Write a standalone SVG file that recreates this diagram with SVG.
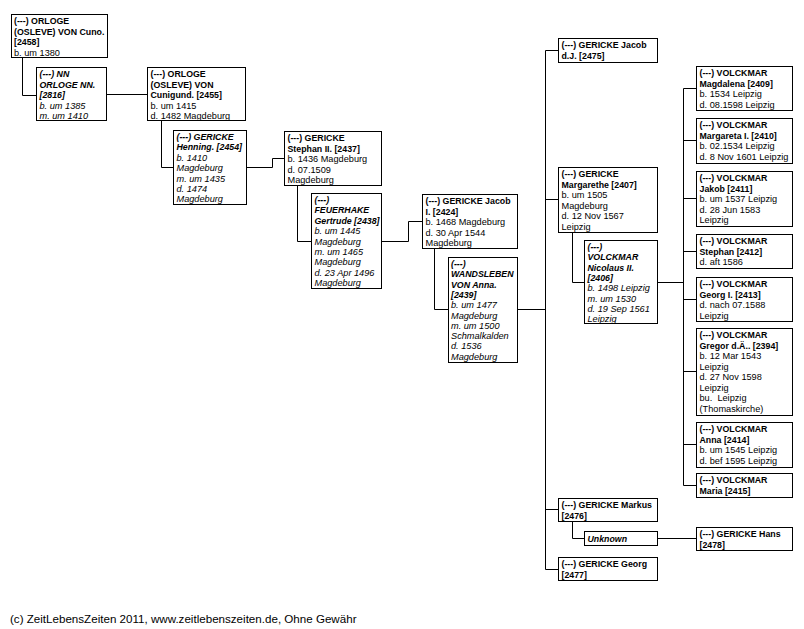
<svg xmlns="http://www.w3.org/2000/svg" width="804" height="629" viewBox="0 0 804 629">
<style>
rect{fill:#fff;stroke:#000;stroke-width:1}
text{font-family:"Liberation Sans",Arial,sans-serif;font-size:9.2px;fill:#000}
.b{font-weight:bold;font-size:8.8px}
.i{font-style:italic}
#connectors path{fill:none;stroke:#000;stroke-width:1}
.foot{font-size:11.6px}
</style>
<rect x="0" y="0" width="804" height="629" style="stroke:none;fill:#fff"/>
<g id="connectors">
<path d="M22.5,58 V95.5 H36"/>
<path d="M107,94.5 H147"/>
<path d="M161.5,121 V167.5 H173"/>
<path d="M246,167.5 H272.5 V158.5 H284"/>
<path d="M297.5,185 V241.5 H311"/>
<path d="M381,241.5 H408.5 V221.5 H422"/>
<path d="M434.5,248 V309.5 H448"/>
<path d="M517,309.5 H545.5"/>
<path d="M545.5,50.5 V569.5"/>
<path d="M545.5,50.5 H558"/>
<path d="M545.5,199.5 H558"/>
<path d="M545.5,509.5 H558"/>
<path d="M545.5,569.5 H558"/>
<path d="M572.5,232 V282.5 H584"/>
<path d="M657,282.5 H683.5"/>
<path d="M683.5,88.5 V485.5"/>
<path d="M683.5,88.5 H696"/>
<path d="M683.5,140.5 H696"/>
<path d="M683.5,198.5 H696"/>
<path d="M683.5,251.5 H696"/>
<path d="M683.5,299.5 H696"/>
<path d="M683.5,371.5 H696"/>
<path d="M683.5,444.5 H696"/>
<path d="M683.5,485.5 H696"/>
<path d="M572.5,521 V538.5 H584"/>
<path d="M657,538.5 H696"/>
</g>
<g id="n2458">
<rect x="11.5" y="14.5" width="96" height="43"/>
<text x="14" y="24"><tspan class="b">(---) ORLOGE</tspan><tspan class="b" x="14" dy="10.6">(OSLEVE) VON Cuno.</tspan><tspan class="b" x="14" dy="10.6">[2458]</tspan><tspan x="14" dy="10.6">b. um 1380</tspan></text>
</g>
<g id="n2816">
<rect x="36.5" y="67.5" width="70" height="53"/>
<text x="39.5" y="77" class="i"><tspan class="b">(---) NN</tspan><tspan class="b" x="39.5" dy="10.5">ORLOGE NN.</tspan><tspan class="b" x="39.5" dy="10.5">[2816]</tspan><tspan x="39.5" dy="10.5">b. um 1385</tspan><tspan x="39.5" dy="10.5">m. um 1410</tspan></text>
</g>
<g id="n2455">
<rect x="147.5" y="67.5" width="98" height="53"/>
<text x="150.5" y="77"><tspan class="b">(---) ORLOGE</tspan><tspan class="b" x="150.5" dy="10.5">(OSLEVE) VON</tspan><tspan class="b" x="150.5" dy="10.5">Cunigund. [2455]</tspan><tspan x="150.5" dy="10.5">b. um 1415</tspan><tspan x="150.5" dy="10.5">d. 1482 Magdeburg</tspan></text>
</g>
<g id="n2454">
<rect x="173.5" y="130.5" width="73" height="74"/>
<text x="176.5" y="140" class="i"><tspan class="b">(---) GERICKE</tspan><tspan class="b" x="176.5" dy="10.4">Henning. [2454]</tspan><tspan x="176.5" dy="10.4">b. 1410</tspan><tspan x="176.5" dy="10.4">Magdeburg</tspan><tspan x="176.5" dy="10.4">m. um 1435</tspan><tspan x="176.5" dy="10.4">d. 1474</tspan><tspan x="176.5" dy="10.4">Magdeburg</tspan></text>
</g>
<g id="n2437">
<rect x="284.5" y="131.5" width="97" height="54"/>
<text x="287.5" y="141"><tspan class="b">(---) GERICKE</tspan><tspan class="b" x="287.5" dy="10.5">Stephan II. [2437]</tspan><tspan x="287.5" dy="10.5">b. 1436 Magdeburg</tspan><tspan x="287.5" dy="10.5">d. 07.1509</tspan><tspan x="287.5" dy="10.5">Magdeburg</tspan></text>
</g>
<g id="n2438">
<rect x="311.5" y="193.5" width="70" height="95"/>
<text x="314.5" y="203" class="i"><tspan class="b">(---)</tspan><tspan class="b" x="314.5" dy="10.4">FEUERHAKE</tspan><tspan class="b" x="314.5" dy="10.4">Gertrude [2438]</tspan><tspan x="314.5" dy="10.4">b. um 1445</tspan><tspan x="314.5" dy="10.4">Magdeburg</tspan><tspan x="314.5" dy="10.4">m. um 1465</tspan><tspan x="314.5" dy="10.4">Magdeburg</tspan><tspan x="314.5" dy="10.4">d. 23 Apr 1496</tspan><tspan x="314.5" dy="10.4">Magdeburg</tspan></text>
</g>
<g id="n2424">
<rect x="422.5" y="194.5" width="95" height="54"/>
<text x="425.5" y="204"><tspan class="b">(---) GERICKE Jacob</tspan><tspan class="b" x="425.5" dy="10.5">I. [2424]</tspan><tspan x="425.5" dy="10.5">b. 1468 Magdeburg</tspan><tspan x="425.5" dy="10.5">d. 30 Apr 1544</tspan><tspan x="425.5" dy="10.5">Magdeburg</tspan></text>
</g>
<g id="n2439">
<rect x="448.5" y="257.5" width="69" height="105"/>
<text x="451" y="267" class="i"><tspan class="b">(---)</tspan><tspan class="b" x="451" dy="10.3">WANDSLEBEN</tspan><tspan class="b" x="451" dy="10.3">VON Anna.</tspan><tspan class="b" x="451" dy="10.3">[2439]</tspan><tspan x="451" dy="10.3">b. um 1477</tspan><tspan x="451" dy="10.3">Magdeburg</tspan><tspan x="451" dy="10.3">m. um 1500</tspan><tspan x="451" dy="10.3">Schmalkalden</tspan><tspan x="451" dy="10.3">d. 1536</tspan><tspan x="451" dy="10.3">Magdeburg</tspan></text>
</g>
<g id="n2475">
<rect x="558.5" y="38.5" width="99" height="24"/>
<text x="561.5" y="48"><tspan class="b">(---) GERICKE Jacob</tspan><tspan class="b" x="561.5" dy="10.5">d.J. [2475]</tspan></text>
</g>
<g id="n2407">
<rect x="558.5" y="167.5" width="99" height="65"/>
<text x="561.5" y="177"><tspan class="b">(---) GERICKE</tspan><tspan class="b" x="561.5" dy="10.5">Margarethe [2407]</tspan><tspan x="561.5" dy="10.5">b. um 1505</tspan><tspan x="561.5" dy="10.5">Magdeburg</tspan><tspan x="561.5" dy="10.5">d. 12 Nov 1567</tspan><tspan x="561.5" dy="10.5">Leipzig</tspan></text>
</g>
<g id="n2406">
<rect x="584.5" y="240.5" width="73" height="83"/>
<text x="587.5" y="250" class="i"><tspan class="b">(---)</tspan><tspan class="b" x="587.5" dy="10.3">VOLCKMAR</tspan><tspan class="b" x="587.5" dy="10.3">Nicolaus II.</tspan><tspan class="b" x="587.5" dy="10.3">[2406]</tspan><tspan x="587.5" dy="10.3">b. 1498 Leipzig</tspan><tspan x="587.5" dy="10.3">m. um 1530</tspan><tspan x="587.5" dy="10.3">d. 19 Sep 1561</tspan><tspan x="587.5" dy="10.3">Leipzig</tspan></text>
</g>
<g id="n2409">
<rect x="696.5" y="66.5" width="96" height="44"/>
<text x="699.5" y="76"><tspan class="b">(---) VOLCKMAR</tspan><tspan class="b" x="699.5" dy="10.5">Magdalena [2409]</tspan><tspan x="699.5" dy="10.5">b. 1534 Leipzig</tspan><tspan x="699.5" dy="10.5">d. 08.1598 Leipzig</tspan></text>
</g>
<g id="n2410">
<rect x="696.5" y="118.5" width="96" height="45"/>
<text x="699.5" y="128"><tspan class="b">(---) VOLCKMAR</tspan><tspan class="b" x="699.5" dy="10.5">Margareta I. [2410]</tspan><tspan x="699.5" dy="10.5">b. 02.1534 Leipzig</tspan><tspan x="699.5" dy="10.5">d. 8 Nov 1601 Leipzig</tspan></text>
</g>
<g id="n2411">
<rect x="696.5" y="171.5" width="96" height="55"/>
<text x="699.5" y="181"><tspan class="b">(---) VOLCKMAR</tspan><tspan class="b" x="699.5" dy="10.5">Jakob [2411]</tspan><tspan x="699.5" dy="10.5">b. um 1537 Leipzig</tspan><tspan x="699.5" dy="10.5">d. 28 Jun 1583</tspan><tspan x="699.5" dy="10.5">Leipzig</tspan></text>
</g>
<g id="n2412">
<rect x="696.5" y="234.5" width="96" height="34"/>
<text x="699.5" y="244"><tspan class="b">(---) VOLCKMAR</tspan><tspan class="b" x="699.5" dy="10.5">Stephan [2412]</tspan><tspan x="699.5" dy="10.5">d. aft 1586</tspan></text>
</g>
<g id="n2413">
<rect x="696.5" y="277.5" width="96" height="44"/>
<text x="699.5" y="287"><tspan class="b">(---) VOLCKMAR</tspan><tspan class="b" x="699.5" dy="10.5">Georg I. [2413]</tspan><tspan x="699.5" dy="10.5">d. nach 07.1588</tspan><tspan x="699.5" dy="10.5">Leipzig</tspan></text>
</g>
<g id="n2394">
<rect x="696.5" y="328.5" width="96" height="87"/>
<text x="699.5" y="338"><tspan class="b">(---) VOLCKMAR</tspan><tspan class="b" x="699.5" dy="10.5">Gregor d.Ä.. [2394]</tspan><tspan x="699.5" dy="10.5">b. 12 Mar 1543</tspan><tspan x="699.5" dy="10.5">Leipzig</tspan><tspan x="699.5" dy="10.5">d. 27 Nov 1598</tspan><tspan x="699.5" dy="10.5">Leipzig</tspan><tspan x="699.5" dy="10.5" xml:space="preserve">bu.  Leipzig</tspan><tspan x="699.5" dy="10.5">(Thomaskirche)</tspan></text>
</g>
<g id="n2414">
<rect x="696.5" y="422.5" width="96" height="45"/>
<text x="699.5" y="432"><tspan class="b">(---) VOLCKMAR</tspan><tspan class="b" x="699.5" dy="10.5">Anna [2414]</tspan><tspan x="699.5" dy="10.5">b. um 1545 Leipzig</tspan><tspan x="699.5" dy="10.5">d. bef 1595 Leipzig</tspan></text>
</g>
<g id="n2415">
<rect x="696.5" y="473.5" width="96" height="24"/>
<text x="699.5" y="483"><tspan class="b">(---) VOLCKMAR</tspan><tspan class="b" x="699.5" dy="10.5">Maria [2415]</tspan></text>
</g>
<g id="n2476">
<rect x="558.5" y="498.5" width="99" height="23"/>
<text x="561.5" y="508"><tspan class="b">(---) GERICKE Markus</tspan><tspan class="b" x="561.5" dy="10.5">[2476]</tspan></text>
</g>
<g id="unknown">
<rect x="584.5" y="531.5" width="73" height="14"/>
<text x="587.5" y="541.5" class="b i">Unknown</text>
</g>
<g id="n2478">
<rect x="696.5" y="527.5" width="96" height="23"/>
<text x="699.5" y="537"><tspan class="b">(---) GERICKE Hans</tspan><tspan class="b" x="699.5" dy="10.5">[2478]</tspan></text>
</g>
<g id="n2477">
<rect x="558.5" y="557.5" width="99" height="23"/>
<text x="561.5" y="567"><tspan class="b">(---) GERICKE Georg</tspan><tspan class="b" x="561.5" dy="10.5">[2477]</tspan></text>
</g>
<text x="10" y="623" class="foot">(c) ZeitLebensZeiten 2011, www.zeitlebenszeiten.de, Ohne Gewähr</text>
</svg>
